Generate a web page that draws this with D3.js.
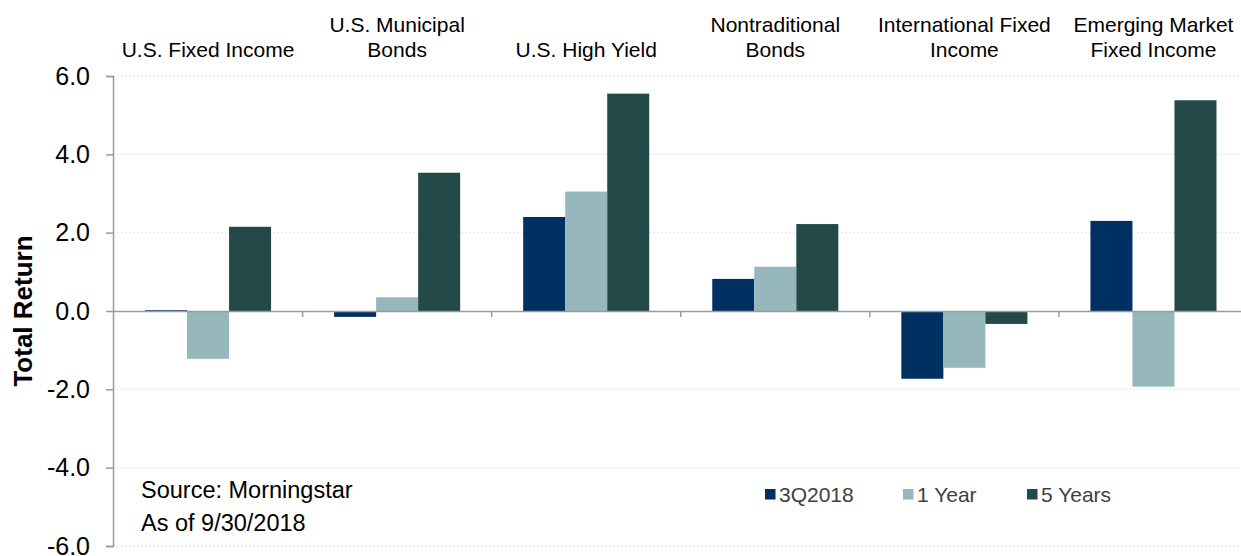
<!DOCTYPE html>
<html>
<head>
<meta charset="utf-8">
<script src="https://cdn.jsdelivr.net/npm/d3@7"></script>
<style>
  body { margin: 0; background: #fff; }
  svg { font-family: "Liberation Sans", Arial, sans-serif; }
</style>
</head>
<body>
<div id="chart"></div>
<script>
'use strict';

// categories (top labels, split over lines)
var categories = [
  ['U.S. Fixed Income'],
  ['U.S. Municipal', 'Bonds'],
  ['U.S. High Yield'],
  ['Nontraditional', 'Bonds'],
  ['International Fixed', 'Income'],
  ['Emerging Market', 'Fixed Income']
];
var seriesNames = ['3Q2018', '1 Year', '5 Years'];
var q3 = [0.02, -0.15, 2.40, 0.82, -1.73, 2.30];
var oneYear = [-1.22, 0.35, 3.05, 1.13, -1.45, -1.93];
var fiveYears = [2.15, 3.53, 5.55, 2.22, -0.33, 5.38];
var yTicks = [-6, -4, -2, 0, 2, 4, 6];
var colors = ['#002f62', '#96b7bb', '#234a48'];

var width = 1241, height = 556;
var svg = d3.select('#chart').append('svg')
    .attr('width', width).attr('height', height);

var x = d3.scaleBand()
    .domain(d3.range(categories.length))
    .range([113.5, 1248])
    .paddingInner(0).paddingOuter(0);

var xs = d3.scaleBand()
    .domain(d3.range(seriesNames.length))
    .range([0, x.bandwidth()])
    .paddingOuter(0.75).paddingInner(0);

var y = d3.scaleLinear().domain([-6, 6]).range([546, 76]);

// gridlines
svg.append('g')
    .selectAll('line')
    .data(yTicks.filter(function (t) { return t !== 0; }))
    .enter().append('line')
    .attr('x1', 113).attr('x2', 1248)
    .attr('y1', function (d) { return y(d); })
    .attr('y2', function (d) { return y(d); })
    .attr('stroke', '#dde3f0')
    .attr('stroke-dasharray', '2,2')
    .attr('stroke-width', 1);

// bars
var series = [q3, oneYear, fiveYears];
series.forEach(function (vals, si) {
  svg.append('g')
      .selectAll('rect')
      .data(vals)
      .enter().append('rect')
      .attr('x', function (d, i) { return x(i) + xs(si); })
      .attr('width', xs.bandwidth())
      .attr('y', function (d) { return d >= 0 ? y(d) : y(0); })
      .attr('height', function (d) { return Math.abs(y(d) - y(0)); })
      .attr('fill', colors[si]);
});

// zero line with category ticks
var xAxis = d3.axisBottom(x).tickSize(0).tickFormat('');
svg.append('g')
    .attr('transform', 'translate(0,' + y(0) + ')')
    .call(xAxis)
    .call(function (g) {
      g.select('.domain').attr('stroke', '#9a9a9a').attr('stroke-width', 1.5);
    });

svg.append('g')
    .selectAll('line')
    .data(d3.range(1, categories.length))
    .enter().append('line')
    .attr('x1', function (d) { return x(d); })
    .attr('x2', function (d) { return x(d); })
    .attr('y1', y(0)).attr('y2', y(0) + 6)
    .attr('stroke', '#9a9a9a').attr('stroke-width', 1.5);

// y axis
var fmt = d3.format('.1f');
var yAxis = d3.axisLeft(y)
    .tickValues(yTicks)
    .tickSize(7)
    .tickPadding(16)
    .tickFormat(function (d) { return fmt(d).replace('\u2212', '-'); });

svg.append('g')
    .attr('transform', 'translate(113,0)')
    .call(yAxis)
    .call(function (g) {
      g.select('.domain').attr('stroke', '#9a9a9a').attr('stroke-width', 1.5);
      g.selectAll('.tick line').attr('stroke', '#9a9a9a').attr('stroke-width', 1.5);
      g.selectAll('.tick text')
          .attr('fill', '#000')
          .style('font-size', '25px')
          .style('font-family', '"Liberation Sans", Arial, sans-serif');
    });

svg.append('text')
    .attr('transform', 'translate(32,' + y(0) + ') rotate(-90)')
    .attr('text-anchor', 'middle')
    .style('font-size', '26px')
    .style('font-weight', 'bold')
    .text('Total Return');

// category labels
var catLabels = svg.append('g')
    .selectAll('text')
    .data(categories)
    .enter().append('text')
    .attr('text-anchor', 'middle')
    .style('font-size', '21px')
    .attr('fill', '#000');

catLabels.each(function (lines, i) {
  var t = d3.select(this);
  var cx = x(i) + x.bandwidth() / 2;
  lines.forEach(function (ln, li) {
    var baseY = 57 - (lines.length - 1 - li) * 25;
    t.append('tspan').attr('x', cx).attr('y', baseY).text(ln);
  });
});

// source note
svg.append('text').attr('x', 141).attr('y', 498)
    .style('font-size', '23.5px').text('Source: Morningstar');
svg.append('text').attr('x', 141).attr('y', 531)
    .style('font-size', '23.5px').text('As of 9/30/2018');

// legend
var legendX = [765, 903, 1027];
var legend = svg.append('g')
    .selectAll('g')
    .data(seriesNames)
    .enter().append('g')
    .attr('transform', function (d, i) { return 'translate(' + legendX[i] + ',494)'; });

legend.append('rect')
    .attr('x', 0).attr('y', -5)
    .attr('width', 10.5).attr('height', 10.5)
    .attr('fill', function (d, i) { return colors[i]; });

legend.append('text')
    .attr('x', 14).attr('y', 8)
    .style('font-size', '21px')
    .attr('fill', '#404040')
    .text(function (d) { return d; });
</script>
</body>
</html>
